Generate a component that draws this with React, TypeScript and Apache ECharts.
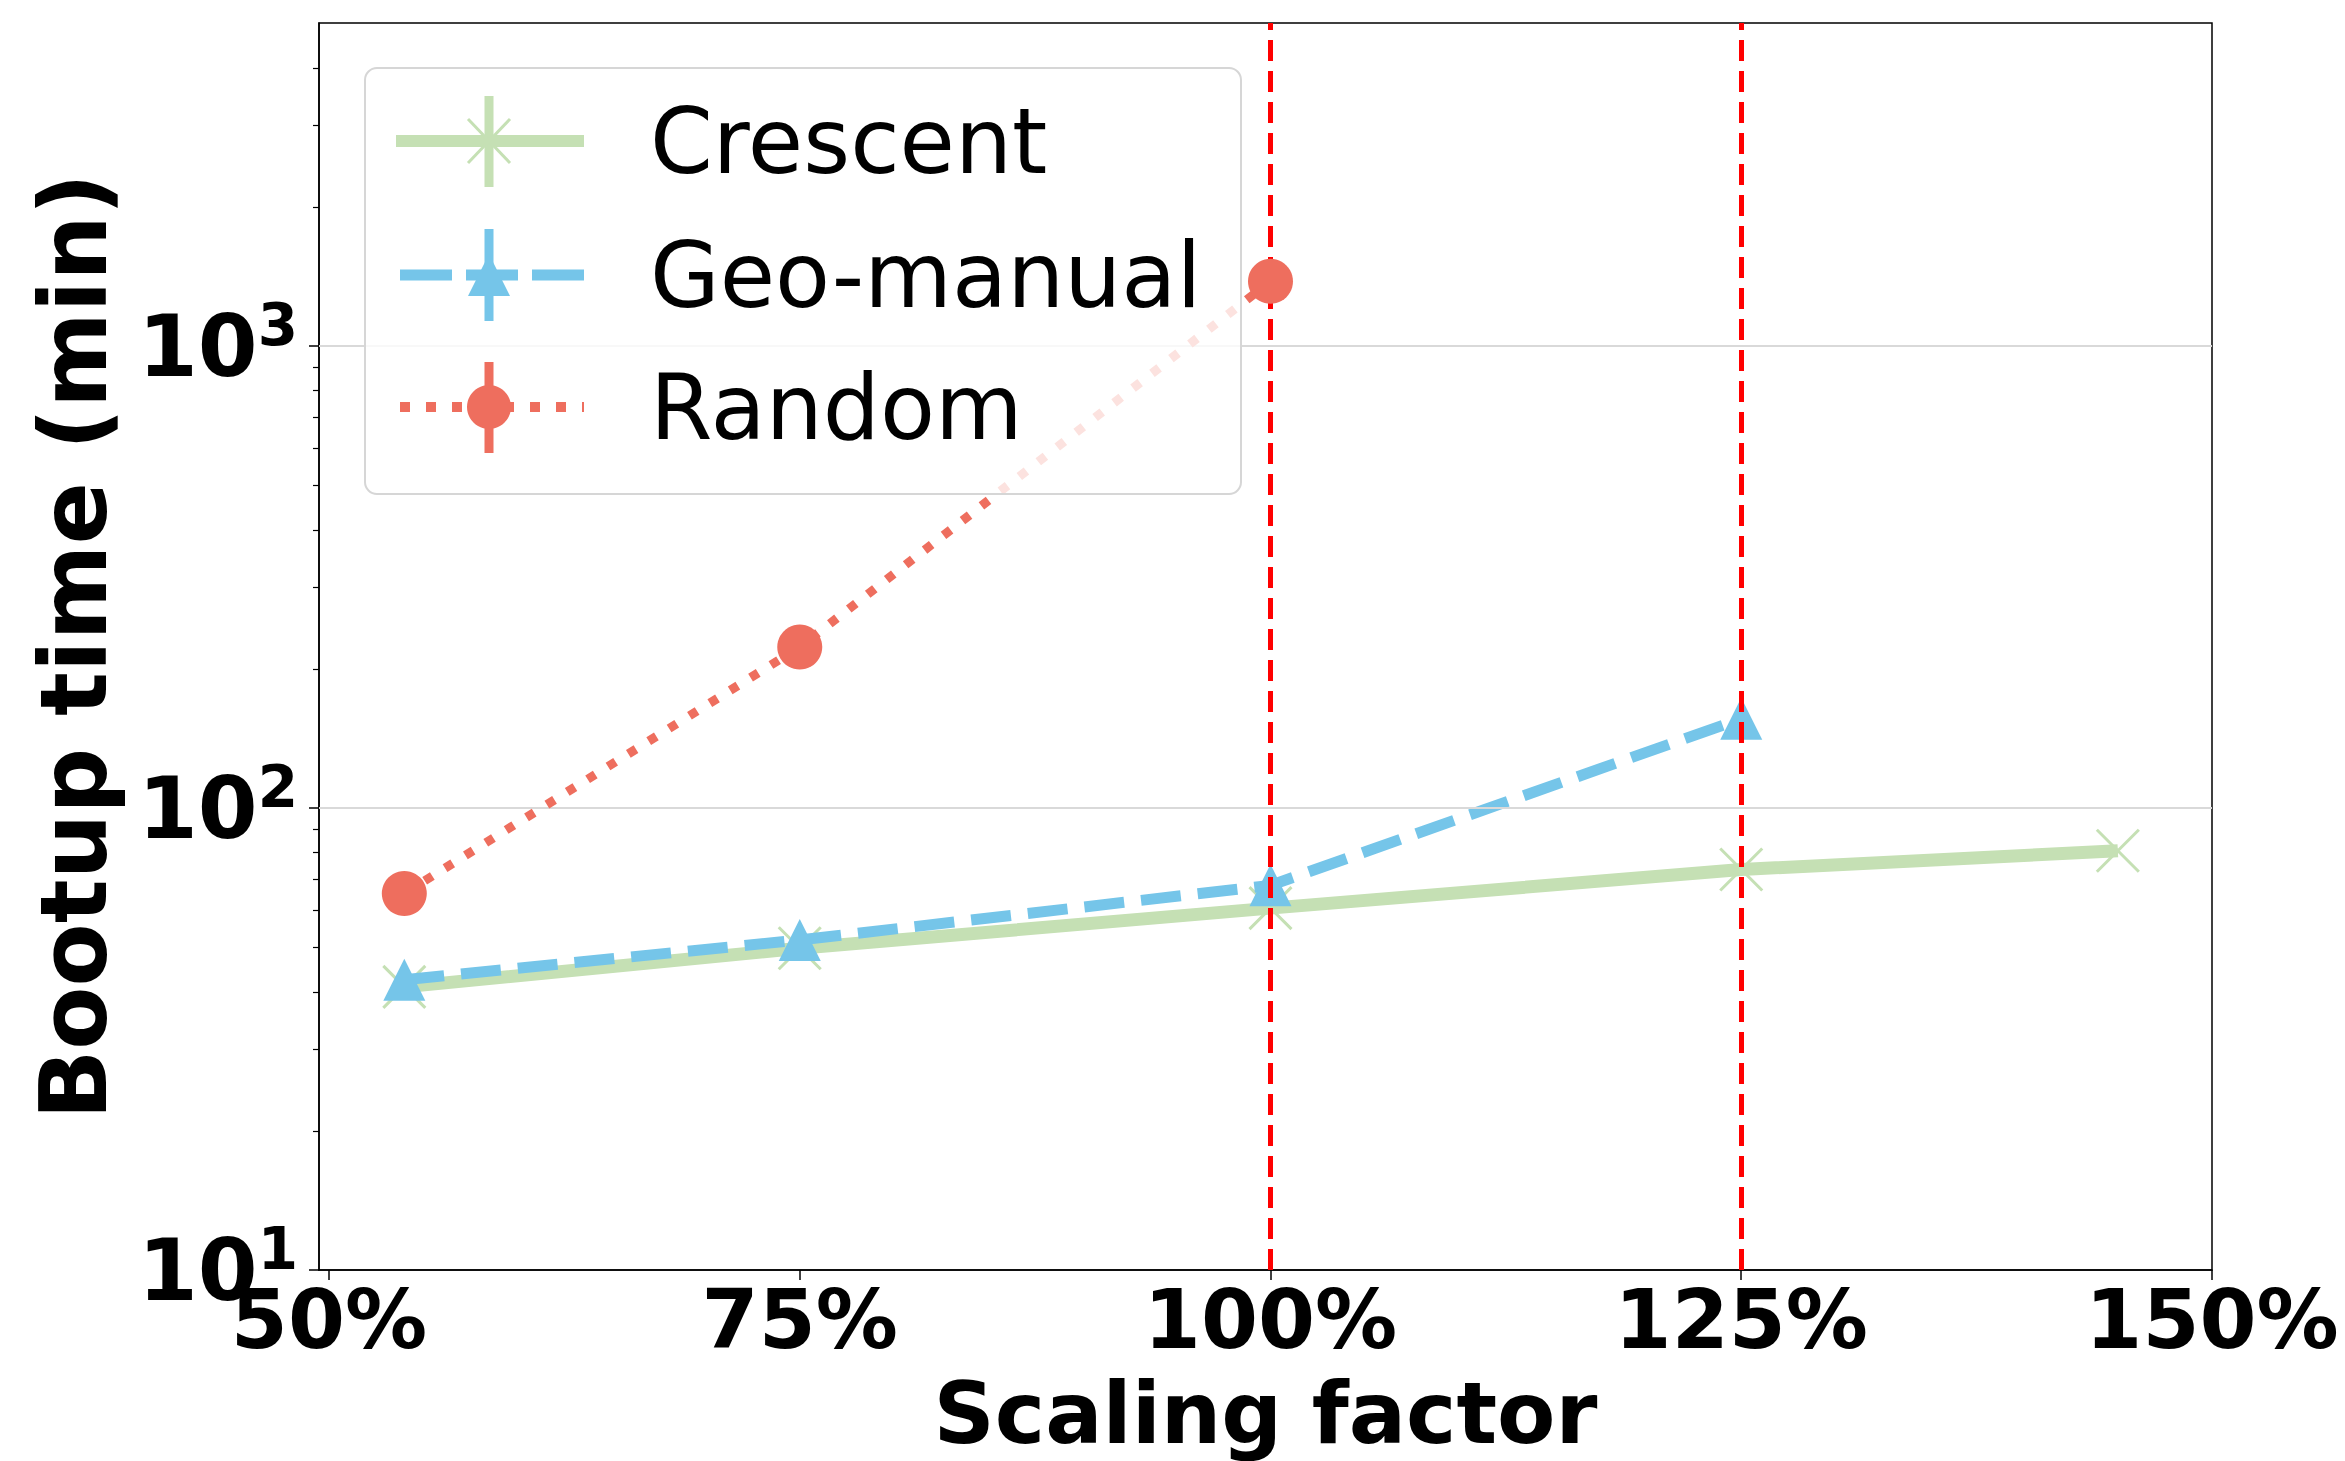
import React, { useEffect, useRef } from "react";
import * as echarts from "echarts";

// ---- data ----
const seriesNames = ["Crescent", "Geo-manual", "Random"];
const crescentX = [54, 75, 100, 125, 145];
const crescentY = [41, 49.7, 60.7, 73.6, 80.8];
const geoX = [54, 75, 100, 125];
const geoY = [42.5, 51.8, 68, 156];
const randomX = [54, 75, 100];
const randomY = [65.3, 223, 1380];
const refLinesX = [100, 125];
const xTickValues = [50, 75, 100, 125, 150];
const yTickValues = [10, 100, 1000];
const yGridValues = [100, 1000];
const yMinorTickValues = [
  20, 30, 40, 50, 60, 70, 80, 90,
  200, 300, 400, 500, 600, 700, 800, 900,
  2000, 3000, 4000,
];
const X_MIN = 49.47;
const X_MAX = 150;
const Y_MIN = 10;
const Y_MAX = 5000;

// ---- style ----
const FONT = "DejaVu Sans";
const GREEN = "#c5e0b4";
const BLUE = "#75c5e9";
const RED = "#ee6e5e";
const W = 2345;
const H = 1461;
const GRID = { left: 319, top: 23, right: 2212, bottom: 1279 };

const xMarkPath = "path://M0,0L10,10M0,10L10,0";

function buildLegend(): any[] {
  const rows = [141, 275, 407];
  const lineX0 = 396;
  const lineX1 = 584;
  const mx = 489;
  const els: any[] = [];
  els.push({
    type: "rect",
    shape: { x: 365, y: 68, width: 876, height: 426, r: 12 },
    style: { fill: "rgba(255,255,255,0.8)", stroke: "#d6d6d6", lineWidth: 2 },
    z: 100,
  });
  // Crescent
  els.push({
    type: "line",
    shape: { x1: lineX0, y1: rows[0], x2: lineX1, y2: rows[0] },
    style: { stroke: GREEN, lineWidth: 12 },
    z: 101,
  });
  els.push({
    type: "line",
    shape: { x1: mx, y1: rows[0] - 45, x2: mx, y2: rows[0] + 46 },
    style: { stroke: GREEN, lineWidth: 9 },
    z: 102,
  });
  els.push({
    type: "line",
    shape: { x1: mx - 21, y1: rows[0] - 22, x2: mx + 21, y2: rows[0] + 22 },
    style: { stroke: GREEN, lineWidth: 3 },
    z: 103,
  });
  els.push({
    type: "line",
    shape: { x1: mx - 21, y1: rows[0] + 22, x2: mx + 21, y2: rows[0] - 22 },
    style: { stroke: GREEN, lineWidth: 3 },
    z: 103,
  });
  // Geo-manual
  els.push({
    type: "line",
    shape: { x1: lineX0 + 4, y1: rows[1], x2: lineX1, y2: rows[1] },
    style: { stroke: BLUE, lineWidth: 11, lineDash: [52, 14] },
    z: 101,
  });
  els.push({
    type: "line",
    shape: { x1: mx, y1: rows[1] - 46, x2: mx, y2: rows[1] + 46 },
    style: { stroke: BLUE, lineWidth: 9 },
    z: 102,
  });
  els.push({
    type: "polygon",
    shape: {
      points: [
        [mx, rows[1] - 21],
        [mx - 21, rows[1] + 21],
        [mx + 21, rows[1] + 21],
      ],
    },
    style: { fill: BLUE },
    z: 103,
  });
  // Random
  els.push({
    type: "line",
    shape: { x1: lineX0 + 4, y1: rows[2], x2: lineX1, y2: rows[2] },
    style: { stroke: RED, lineWidth: 10, lineDash: [10, 16] },
    z: 101,
  });
  els.push({
    type: "line",
    shape: { x1: mx, y1: rows[2] - 45, x2: mx, y2: rows[2] + 46 },
    style: { stroke: RED, lineWidth: 9 },
    z: 102,
  });
  els.push({
    type: "circle",
    shape: { cx: mx, cy: rows[2], r: 22 },
    style: { fill: RED },
    z: 103,
  });
  seriesNames.forEach((name, i) => {
    els.push({
      type: "text",
      x: 650,
      y: rows[i],
      style: {
        text: name,
        fontSize: 90,
        fontFamily: FONT,
        fill: "#000",
        verticalAlign: "middle",
        align: "left",
      },
      z: 104,
    });
  });
  return els;
}

function buildOption(): any {
  const axisLineStyle = { color: "#000", width: 1.5 };
  return {
    animation: false,
    backgroundColor: "#fff",
    grid: {
      left: GRID.left,
      top: GRID.top,
      right: W - GRID.right,
      bottom: H - GRID.bottom,
      containLabel: false,
      show: true,
      borderColor: "#000",
      borderWidth: 1.5,
      backgroundColor: "transparent",
    },
    xAxis: {
      type: "value",
      min: X_MIN,
      max: X_MAX,
      axisLine: { show: true, onZero: false, lineStyle: axisLineStyle },
      axisTick: {
        show: true,
        customValues: xTickValues,
        length: 10,
        lineStyle: axisLineStyle,
      },
      axisLabel: {
        customValues: xTickValues,
        formatter: (v: number) => `${v}%`,
        fontSize: 82,
        fontWeight: "bold",
        fontFamily: FONT,
        color: "#000",
        margin: 8,
      },
      splitLine: { show: false },
      name: "Scaling factor",
      nameLocation: "middle",
      nameGap: 101,
      nameTextStyle: {
        fontSize: 85,
        fontWeight: "bold",
        fontFamily: FONT,
        color: "#000",
      },
    },
    yAxis: [
      {
        type: "log",
        logBase: 10,
        min: Y_MIN,
        max: Y_MAX,
        axisLine: { show: true, onZero: false, lineStyle: axisLineStyle },
        axisTick: {
          show: true,
          customValues: yTickValues,
          length: 10,
          lineStyle: axisLineStyle,
        },
        axisLabel: {
          customValues: yTickValues,
          formatter: (v: number) =>
            `{b|10}{s|${Math.round(Math.log10(v))}}`,
          margin: 21,
          rich: {
            b: {
              fontSize: 86,
              fontWeight: "bold",
              fontFamily: FONT,
              color: "#000",
              lineHeight: 100,
            },
            s: {
              fontSize: 58,
              fontWeight: "bold",
              fontFamily: FONT,
              color: "#000",
              lineHeight: 58,
              verticalAlign: "top",
            },
          },
        },
        splitLine: { show: false },
        name: "Bootup time (min)",
        nameLocation: "middle",
        nameGap: 199,
        nameTextStyle: {
          fontSize: 92,
          fontWeight: "bold",
          fontFamily: FONT,
          color: "#000",
        },
      },
      {
        type: "log",
        logBase: 10,
        min: Y_MIN,
        max: Y_MAX,
        position: "left",
        axisLine: { show: false },
        axisTick: {
          show: true,
          customValues: yMinorTickValues,
          length: 6,
          lineStyle: { color: "#000", width: 1.2 },
        },
        axisLabel: { show: false },
        splitLine: { show: false },
      },
    ],
    graphic: buildLegend(),
    series: [
      {
        name: "grid",
        type: "line",
        data: [],
        z: 1,
        silent: true,
        markLine: {
          silent: true,
          symbol: ["none", "none"],
          label: { show: false },
          lineStyle: { color: "#d9d9d9", width: 2, type: "solid" },
          data: yGridValues.map((v) => ({ yAxis: v })),
        },
      },
      {
        name: seriesNames[0],
        type: "line",
        data: crescentX.map((x, i) => [x, crescentY[i]]),
        z: 2,
        symbol: xMarkPath,
        symbolSize: 42,
        itemStyle: { color: "none", borderColor: GREEN, borderWidth: 3 },
        lineStyle: { color: GREEN, width: 13, type: "solid" },
      },
      {
        name: "ref",
        type: "line",
        data: [],
        z: 3,
        silent: true,
        markLine: {
          silent: true,
          symbol: ["none", "none"],
          label: { show: false },
          lineStyle: { color: "#ff0000", width: 5, type: [21, 10] },
          data: refLinesX.map((v) => ({ xAxis: v })),
        },
      },
      {
        name: seriesNames[1],
        type: "line",
        data: geoX.map((x, i) => [x, geoY[i]]),
        z: 4,
        symbol: "triangle",
        symbolSize: 42,
        itemStyle: { color: BLUE },
        lineStyle: { color: BLUE, width: 11, type: [40, 17] },
      },
      {
        name: seriesNames[2],
        type: "line",
        data: randomX.map((x, i) => [x, randomY[i]]),
        z: 5,
        symbol: "circle",
        symbolSize: 45,
        itemStyle: { color: RED },
        lineStyle: { color: RED, width: 9, type: [9, 15], cap: "butt" },
      },
    ],
  };
}

export default function App() {
  const ref = useRef<HTMLDivElement>(null);
  useEffect(() => {
    document.body.style.margin = "0";
    document.documentElement.style.overflow = "hidden";
    document.body.style.overflow = "hidden";
    if (!ref.current) return;
    const chart = echarts.init(ref.current, undefined, { renderer: "svg" });
    chart.setOption(buildOption());
    return () => {
      chart.dispose();
    };
  }, []);
  return (
    <div
      ref={ref}
      style={{ position: "fixed", left: 0, top: 0, width: W, height: H }}
    />
  );
}
